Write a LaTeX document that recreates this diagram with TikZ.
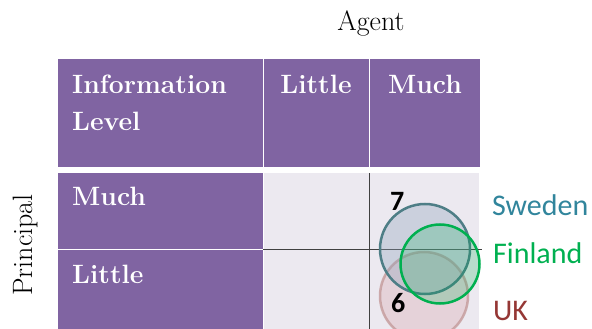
\documentclass[tikz,border=0pt]{standalone}
\usepackage{fontspec}
\newfontfamily\calib{Carlito}
\begin{document}
\begin{tikzpicture}[x=1pt,y=-1pt,
  hdr/.style={fill=purp,draw=none},
  cell/.style={fill=cellg,draw=none},
  htext/.style={text=white,font=\fontsize{26.5}{30}\selectfont\bfseries,inner sep=0pt},
  ttext/.style={text=black,font=\fontsize{28}{32}\selectfont,inner sep=0pt},
  ctext/.style={font=\calib\fontsize{30}{34}\selectfont,inner sep=0pt,anchor=base west},
  num/.style={font=\calib\bfseries\fontsize{28}{30}\selectfont,inner sep=0pt,anchor=base west},
  axis/.style={draw=axisc,line width=1pt}]
\definecolor{purp}{HTML}{8064A2}
\definecolor{cellg}{HTML}{ECE9F0}
\definecolor{axisc}{HTML}{404040}
\definecolor{swe}{HTML}{31859C}
\definecolor{swedraw}{HTML}{4E7E86}
\definecolor{swefill}{HTML}{8FA3BA}
\definecolor{fin}{HTML}{00B050}
\definecolor{ukc}{HTML}{953735}
\definecolor{ukdraw}{HTML}{C49A9A}
\definecolor{ukfill}{HTML}{DDB8BE}
\useasboundingbox (0,0) rectangle (592,329);
\clip (0,0) rectangle (592,329);
% header row
\fill[hdr] (58,59) rectangle (262.5,167);
\fill[hdr] (263.5,59) rectangle (368.5,167);
\fill[hdr] (369.5,59) rectangle (480,167);
% body
\fill[hdr] (58,173) rectangle (263,248.5);
\fill[hdr] (58,249.5) rectangle (263,329);
\fill[cell] (264,173) rectangle (479,329);
% texts
\node[ttext,anchor=base] (agent) at (371,31) {Agent};
\node[ttext,anchor=base,rotate=90] (principal) at (32,245) {Principal};
\node[htext,anchor=base west] (info) at (72,93) {Information};
\node[htext,anchor=base west] (level) at (72,130) {Level};
\node[htext,anchor=base] (hlittle) at (316,93) {Little};
\node[htext,anchor=base] (hmuch) at (425,93) {Much};
\node[htext,anchor=base west] (rmuch) at (72,205) {Much};
\node[htext,anchor=base west] (rlittle) at (72,283) {Little};
% axes
\coordinate (vtop) at (369,173);
\coordinate (vbot) at (369,329);
\coordinate (hl) at (263,249);
\coordinate (hr) at (482,249);
\draw[axis] (vtop) -- (vbot);
\draw[axis] (hl) -- (hr);
% circles
\node[circle,minimum size=88pt,inner sep=0pt,draw=ukdraw,line width=2.5pt,fill=ukfill,fill opacity=0.45,draw opacity=0.8] (uk) at (424,296) {};
\node[circle,minimum size=90pt,inner sep=0pt,draw=swedraw,line width=2.5pt,fill=swefill,fill opacity=0.35] (swec) at (425,249) {};
\node[circle,minimum size=79pt,inner sep=0pt,draw=fin,line width=2.5pt,fill=fin,fill opacity=0.22] (finc) at (440,264) {};
% numbers
\node[num] (seven) at (390,210) {7};
\node[num] (six) at (391,312) {6};
% labels
\node[ctext,text=swe] (sweden) at (492,215) {Sweden};
\node[ctext,text=fin] (finland) at (493,263) {Finland};
\node[ctext,text=ukc] (ukl) at (493,320) {UK};
\end{tikzpicture}
\end{document}
